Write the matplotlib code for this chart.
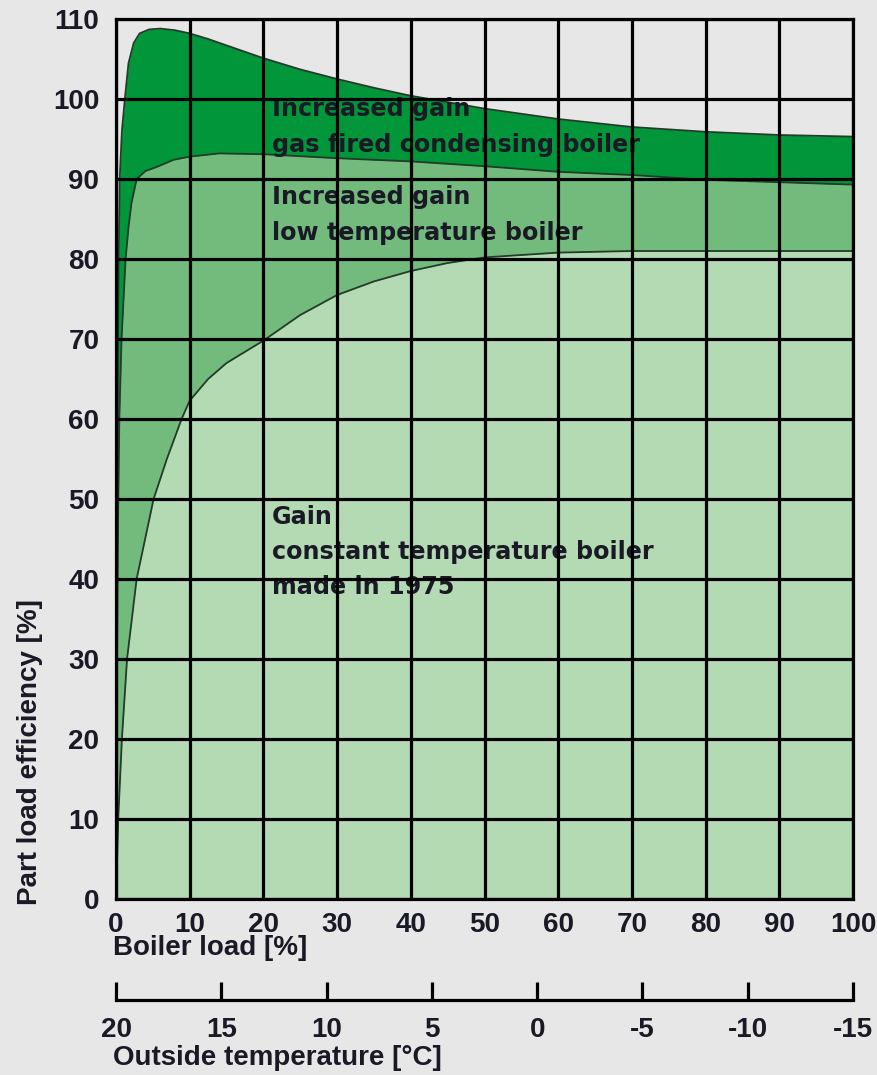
import matplotlib.pyplot as plt

# boiler load [%] vs part load efficiency [%]
load_cond = [0, 0.15, 0.3, 0.5, 0.8, 1.2, 1.7, 2.4, 3.2, 4.5, 6, 8, 10, 12.5, 15, 20,
             25, 30, 35, 40, 50, 60, 70, 80, 90, 100]
eff_cond = [0, 40, 75, 90, 96, 100, 104.5, 107, 108.2, 108.7, 108.8, 108.6, 108.2, 107.5,
            106.7, 105.1, 103.7, 102.5, 101.4, 100.4, 98.8, 97.5, 96.5, 95.9, 95.5, 95.3]

load_lowt = [0, 0.1, 0.25, 0.45, 0.75, 1.3, 1.7, 2.1, 2.8, 4, 5.5, 7.8, 10, 14, 20,
             30, 40, 50, 60, 70, 80, 90, 100]
eff_lowt = [0, 25, 45, 60, 70, 80, 84, 87, 90, 91, 91.5, 92.4, 92.8, 93.2, 93.1,
            92.6, 92.2, 91.6, 90.9, 90.5, 89.9, 89.6, 89.3]

load_const = [0, 0.3, 0.8, 1.5, 2.8, 5.1, 6.9, 8.9, 10, 12.5, 15, 20, 25, 30, 35, 40,
              45, 50, 60, 70, 80, 90, 100]
eff_const = [0, 10, 20, 30, 40, 50, 55, 60, 62.3, 65, 67, 69.8, 73, 75.5, 77.2, 78.5,
             79.5, 80.2, 80.8, 81, 81, 81, 81]

load_ticks = [0, 10, 20, 30, 40, 50, 60, 70, 80, 90, 100]
eff_ticks = [0, 10, 20, 30, 40, 50, 60, 70, 80, 90, 100, 110]
temp_ticks = [20, 15, 10, 5, 0, -5, -10, -15]

bg = '#e7e7e7'
txt = '#1a1a26'
lab_font = dict(family='Liberation Sans', weight='bold', size=20, color=txt)

fig = plt.figure(figsize=(8.77, 10.75), dpi=100, facecolor=bg)
W, H = 877, 1075
x0, x1, ytop, ybot = 116, 853, 19, 899
ax = fig.add_axes([x0 / W, 1 - ybot / H, (x1 - x0) / W, (ybot - ytop) / H])
ax.set_facecolor(bg)

# fills and outlines stay under the grid (axis zorder 2.5)
ax.fill_between(load_cond, 0, eff_cond, color='#009639', lw=0, zorder=0.5)
ax.fill_between(load_lowt, 0, eff_lowt, color='#73ba7d', lw=0, zorder=0.6)
ax.fill_between(load_const, 0, eff_const, color='#b4dab4', lw=0, zorder=0.7)
for xs, ys in [(load_cond, eff_cond), (load_lowt, eff_lowt), (load_const, eff_const)]:
    ax.plot(xs, ys, color='#243b28', lw=1.3, zorder=0.8)

ax.set_xlim(0, 100)
ax.set_ylim(0, 110)
ax.set_xticks(load_ticks)
ax.set_yticks(eff_ticks)
ax.set_axisbelow(False)
ax.grid(True, color='black', lw=2.3)
for s in ax.spines.values():
    s.set_linewidth(2.3)
ax.tick_params(length=0, pad=9)
ax.tick_params(axis='y', pad=12)
for lbl in ax.get_xticklabels() + ax.get_yticklabels():
    lbl.set(**lab_font)

tfont = dict(family='DejaVu Sans', weight='bold', size=17.2, color=txt,
             va='top', ha='left', linespacing=1.6, zorder=1)
ax.text(21.2, 100.2, 'Increased gain\ngas fired condensing boiler', **tfont)
ax.text(21.2, 89.2, 'Increased gain\nlow temperature boiler', **tfont)
ax.text(21.2, 49.3, 'Gain\nconstant temperature boiler\nmade in 1975', **tfont)

fig.text(113 / W, 1 - 948 / H, 'Boiler load [%]', ha='left', va='center', **lab_font)
fig.text(30 / W, 1 - 905 / H, 'Part load efficiency [%]', rotation=90,
         ha='center', va='bottom', **lab_font)

# second scale: outside temperature
ax2 = fig.add_axes([x0 / W, 1 - 1000 / H, (x1 - x0) / W, 0.001])
ax2.set_facecolor('none')
for side in ['top', 'left', 'right']:
    ax2.spines[side].set_visible(False)
ax2.spines['bottom'].set_linewidth(2.3)
ax2.set_xlim(20, -15)
ax2.set_xticks(temp_ticks)
ax2.set_xticklabels([str(t) for t in temp_ticks])
ax2.set_yticks([])
ax2.tick_params(axis='x', direction='in', length=13, width=2.3, pad=12)
for lbl in ax2.get_xticklabels():
    lbl.set(**lab_font)
fig.text(113 / W, 1 - 1058 / H, 'Outside temperature [°C]', ha='left', va='center', **lab_font)

fig.savefig('out.png', dpi=100, facecolor=bg)
